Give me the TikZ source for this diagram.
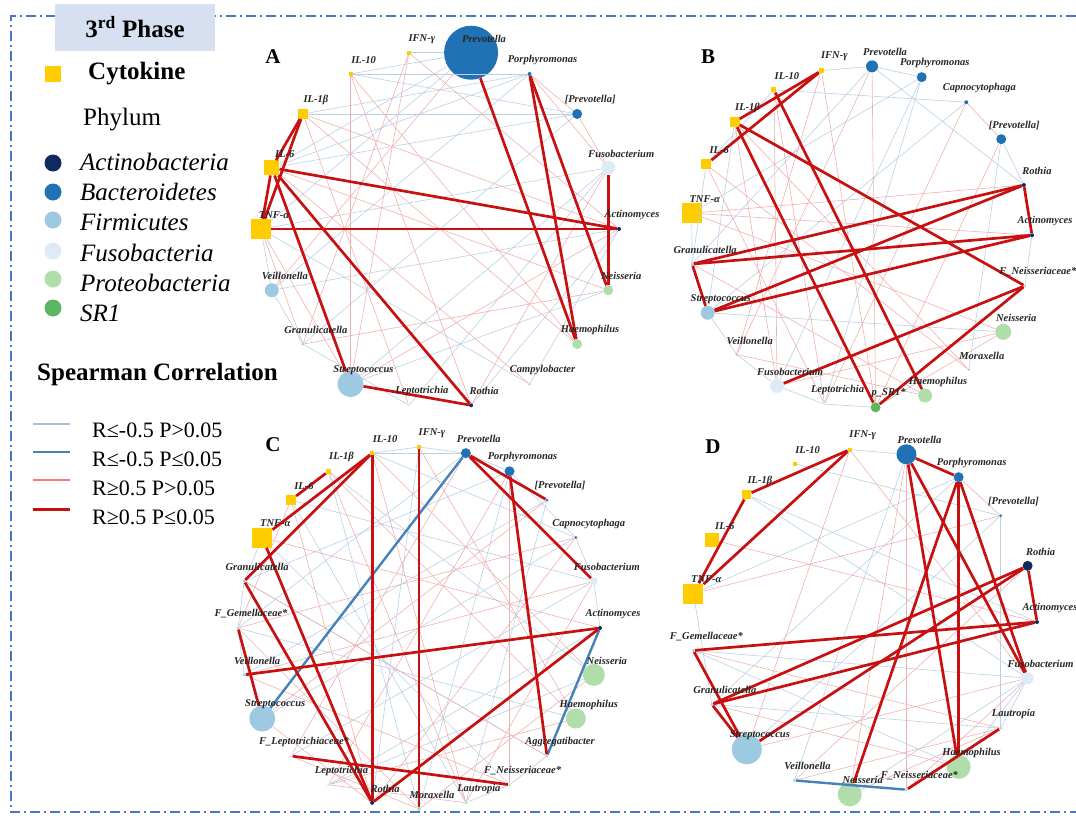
\documentclass[tikz,border=0pt]{standalone}
\usepackage{fontspec}
\setmainfont{Liberation Serif}
\usepackage{tikz}
\usetikzlibrary{positioning}

\definecolor{cytoC}{RGB}{255,204,0}
\definecolor{actC}{RGB}{16,42,96}
\definecolor{bacC}{RGB}{33,113,181}
\definecolor{firC}{RGB}{158,202,225}
\definecolor{fusC}{RGB}{222,234,246}
\definecolor{proC}{RGB}{176,222,170}
\definecolor{sroneC}{RGB}{92,182,100}
\definecolor{frameC}{RGB}{72,118,200}
\definecolor{titleC}{RGB}{214,224,240}
\definecolor{wbC}{RGB}{186,208,230}
\definecolor{sbC}{RGB}{70,130,185}
\definecolor{wrC}{RGB}{240,176,176}
\definecolor{redC}{RGB}{200,16,16}

\begin{document}
\begin{tikzpicture}
[x=1pt,y=-1pt,
cyto/.style={rectangle,fill=cytoC,inner sep=0pt,minimum size=#1},
actino/.style={circle,fill=actC,inner sep=0pt,minimum size=#1},
bactero/.style={circle,fill=bacC,inner sep=0pt,minimum size=#1},
firmi/.style={circle,fill=firC,inner sep=0pt,minimum size=#1},
fuso/.style={circle,fill=fusC,inner sep=0pt,minimum size=#1},
proteo/.style={circle,fill=proC,inner sep=0pt,minimum size=#1},
srone/.style={circle,fill=sroneC,inner sep=0pt,minimum size=#1},
lbl/.style={font=\fontsize{10.5}{12}\selectfont\bfseries\itshape,text=black!85,inner sep=0pt},
weakneg/.style={wbC,line width=.6pt},
strongneg/.style={sbC,line width=2.4pt},
weakpos/.style={wrC,line width=.6pt},
strongpos/.style={redC,line width=2.7pt},
legbold/.style={font=\fontsize{25}{30}\selectfont\bfseries,inner sep=0pt,anchor=west},
legtext/.style={font=\fontsize{25}{30}\selectfont,inner sep=0pt,anchor=west},
legit/.style={font=\fontsize{25}{30}\selectfont\itshape,inner sep=0pt,anchor=west},
legcorr/.style={font=\fontsize{22}{26}\selectfont,inner sep=0pt,anchor=west},
panel/.style={font=\fontsize{21}{25}\selectfont\bfseries,inner sep=0pt}]
\useasboundingbox (0,0) rectangle (1076,816);

% frame and title
\draw[frameC,line width=1.8pt,dash pattern=on 10pt off 4pt on 2pt off 4pt] (1076,16) -| (11,812) -- (1076,812);
\node[fill=titleC,minimum width=160,minimum height=47,inner sep=0pt,font=\fontsize{25}{30}\selectfont\bfseries] (title) at (135,27.5) {3\textsuperscript{rd} Phase};

% legend
\node[cyto=16] (kc) at (53,74) {};
\node[legbold] (kct) at (88,74) {Cytokine};
\node[legtext] (kph) at (83,120) {Phylum};
\node[actino=17] (k1) at (53,163) {};
\node[legit] (k1t) at (80,162) {Actinobacteria};
\node[bactero=17] (k2) at (53,192) {};
\node[legit] (k2t) at (80,192) {Bacteroidetes};
\node[firmi=17] (k3) at (53,220) {};
\node[legit] (k3t) at (80,222) {Firmicutes};
\node[fuso=17] (k4) at (53,251) {};
\node[legit] (k4t) at (80,253) {Fusobacteria};
\node[proteo=17] (k5) at (53,279) {};
\node[legit] (k5t) at (80,283) {Proteobacteria};
\node[srone=17] (k6) at (53,308) {};
\node[legit] (k6t) at (80,313) {SR1};
\node[legbold] (ksp) at (37,374) {Spearman Correlation};

\coordinate (l1a) at (33,424); \coordinate (l1b) at (70,424);
\coordinate (l2a) at (33,452); \coordinate (l2b) at (70,452);
\coordinate (l3a) at (33,480); \coordinate (l3b) at (70,480);
\coordinate (l4a) at (33,509); \coordinate (l4b) at (70,509);
\draw[wbC!80!sbC,line width=1.2pt] (l1a) -- (l1b);
\draw[sbC,line width=2.8pt] (l2a) -- (l2b);
\draw[wrC!70!red,line width=1.2pt] (l3a) -- (l3b);
\draw[redC,line width=3pt] (l4a) -- (l4b);
\node[legcorr] (l1t) at (92,430) {R≤-0.5 P>0.05};
\node[legcorr] (l2t) at (92,459) {R≤-0.5 P≤0.05};
\node[legcorr] (l3t) at (92,488) {R≥0.5 P>0.05};
\node[legcorr] (l4t) at (92,517) {R≥0.5 P≤0.05};

% panel A
\node[panel] (pA) at (273,57) {A};
\begin{scope}[shift={(440,229)}]
\node[cyto=4] (a1) at (260:179) {};
\node[bactero=54] (a2) at (280:179) {};
\node[bactero=4] (a3) at (300:179) {};
\node[bactero=10] (a4) at (320:179) {};
\node[fuso=14] (a5) at (340:179) {};
\node[actino=4] (a6) at (0:179) {};
\node[proteo=10] (a7) at (20:179) {};
\node[proteo=10] (a8) at (40:179) {};
\node[proteo=3] (a9) at (60:179) {};
\node[actino=4] (a10) at (80:179) {};
\node[fuso=3] (a11) at (100:179) {};
\node[firmi=26] (a12) at (120:179) {};
\node[firmi=3] (a13) at (140:179) {};
\node[firmi=14] (a14) at (160:179) {};
\node[cyto=20] (a15) at (180:179) {};
\node[cyto=15] (a16) at (200:179) {};
\node[cyto=10] (a17) at (220:179) {};
\node[cyto=4] (a18) at (240:179) {};
\end{scope}

\foreach \from/\to in {a1/a2,a18/a3,a18/a4,a17/a4,a17/a3,a16/a3,a15/a2,a14/a3,a13/a4,a15/a5,a14/a6,a12/a5,a11/a5,a10/a6,a14/a15,a9/a6,a12/a7,a16/a2,a11/a13,a13/a14,a15/a9,a18/a2,a16/a4}
\draw[weakneg] (\from) -- (\to);
\foreach \from/\to in {a1/a6,a1/a13,a18/a12,a18/a10,a18/a8,a17/a8,a17/a11,a16/a7,a15/a13,a15/a12,a3/a5,a3/a4,a4/a5,a12/a6,a10/a5,a13/a7,a2/a14,a1/a12,a16/a9,a17/a6}
\draw[weakpos] (\from) -- (\to);
\foreach \from/\to in {a17/a16,a17/a15,a16/a15,a16/a6,a15/a6,a16/a12,a16/a10,a12/a10,a2/a8,a3/a8,a3/a7,a5/a7}
\draw[strongpos] (\from) -- (\to);

\node[lbl] (a1t) at ([shift={(13,-14)}]a1) {IFN-γ};
\node[lbl] (a2t) at ([shift={(13,-14)}]a2) {Prevotella};
\node[lbl] (a3t) at ([shift={(13,-14)}]a3) {Porphyromonas};
\node[lbl] (a4t) at ([shift={(13,-14)}]a4) {[Prevotella]};
\node[lbl] (a5t) at ([shift={(13,-14)}]a5) {Fusobacterium};
\node[lbl] (a6t) at ([shift={(13,-14)}]a6) {Actinomyces};
\node[lbl] (a7t) at ([shift={(13,-14)}]a7) {Neisseria};
\node[lbl] (a8t) at ([shift={(13,-14)}]a8) {Haemophilus};
\node[lbl] (a9t) at ([shift={(13,-14)}]a9) {Campylobacter};
\node[lbl] (a10t) at ([shift={(13,-14)}]a10) {Rothia};
\node[lbl] (a11t) at ([shift={(13,-14)}]a11) {Leptotrichia};
\node[lbl] (a12t) at ([shift={(13,-14)}]a12) {Streptococcus};
\node[lbl] (a13t) at ([shift={(13,-14)}]a13) {Granulicatella};
\node[lbl] (a14t) at ([shift={(13,-14)}]a14) {Veillonella};
\node[lbl] (a15t) at ([shift={(13,-14)}]a15) {TNF-α};
\node[lbl] (a16t) at ([shift={(13,-14)}]a16) {IL-6};
\node[lbl] (a17t) at ([shift={(13,-14)}]a17) {IL-1β};
\node[lbl] (a18t) at ([shift={(13,-14)}]a18) {IL-10};

% panel B
\node[panel] (pB) at (708,57) {B};
\begin{scope}[shift={(861,237)}]
\node[bactero=12] (b1) at (273.7:171) {};
\node[bactero=10] (b2) at (290.8:171) {};
\node[bactero=4] (b3) at (308.0:171) {};
\node[bactero=10] (b4) at (325.1:171) {};
\node[actino=4] (b5) at (342.3:171) {};
\node[actino=4] (b6) at (359.4:171) {};
\node[proteo=3] (b7) at (16.6:171) {};
\node[proteo=16] (b8) at (33.7:171) {};
\node[proteo=3] (b9) at (50.9:171) {};
\node[proteo=14] (b10) at (68.0:171) {};
\node[srone=10] (b11) at (85.1:171) {};
\node[fuso=3] (b12) at (102.3:171) {};
\node[fuso=14] (b13) at (119.4:171) {};
\node[firmi=3] (b14) at (136.6:171) {};
\node[firmi=14] (b15) at (153.7:171) {};
\node[firmi=3] (b16) at (170.9:171) {};
\node[cyto=20] (b17) at (188.0:171) {};
\node[cyto=10] (b18) at (205.1:171) {};
\node[cyto=10] (b19) at (222.3:171) {};
\node[cyto=5] (b20) at (239.4:171) {};
\node[cyto=5] (b21) at (256.6:171) {};
\end{scope}

\foreach \from/\to in {b21/b1,b1/b2,b1/b5,b1/b16,b2/b17,b2/b13,b4/b5,b6/b7,b3/b15,b15/b8,b15/b14,b14/b13,b13/b12,b12/b11,b16/b18,b17/b16,b4/b9,b18/b20,b19/b15,b2/b12,b20/b3}
\draw[weakneg] (\from) -- (\to);
\foreach \from/\to in {b21/b11,b21/b14,b20/b13,b19/b13,b18/b9,b17/b6,b17/b5,b17/b8,b3/b4,b3/b12,b1/b11,b1/b14,b4/b11,b13/b8,b14/b10,b16/b10,b18/b12,b11/b8,b19/b9,b20/b12}
\draw[weakpos] (\from) -- (\to);
\foreach \from/\to in {b21/b19,b21/b18,b20/b10,b19/b11,b19/b7,b5/b6,b5/b16,b5/b15,b6/b16,b6/b15,b16/b15,b7/b13,b7/b11}
\draw[strongpos] (\from) -- (\to);

\node[lbl] (b1t) at ([shift={(13,-14)}]b1) {Prevotella};
\node[lbl] (b2t) at ([shift={(13,-14)}]b2) {Porphyromonas};
\node[lbl] (b3t) at ([shift={(13,-14)}]b3) {Capnocytophaga};
\node[lbl] (b4t) at ([shift={(13,-14)}]b4) {[Prevotella]};
\node[lbl] (b5t) at ([shift={(13,-14)}]b5) {Rothia};
\node[lbl] (b6t) at ([shift={(13,-14)}]b6) {Actinomyces};
\node[lbl] (b7t) at ([shift={(13,-14)}]b7) {F\_Neisseriaceae*};
\node[lbl] (b8t) at ([shift={(13,-14)}]b8) {Neisseria};
\node[lbl] (b9t) at ([shift={(13,-14)}]b9) {Moraxella};
\node[lbl] (b10t) at ([shift={(13,-14)}]b10) {Haemophilus};
\node[lbl] (b11t) at ([shift={(13,-14)}]b11) {p\_SR1*};
\node[lbl] (b12t) at ([shift={(13,-14)}]b12) {Leptotrichia};
\node[lbl] (b13t) at ([shift={(13,-14)}]b13) {Fusobacterium};
\node[lbl] (b14t) at ([shift={(13,-14)}]b14) {Veillonella};
\node[lbl] (b15t) at ([shift={(13,-14)}]b15) {Streptococcus};
\node[lbl] (b16t) at ([shift={(13,-14)}]b16) {Granulicatella};
\node[lbl] (b17t) at ([shift={(13,-14)}]b17) {TNF-α};
\node[lbl] (b18t) at ([shift={(13,-14)}]b18) {IL-6};
\node[lbl] (b19t) at ([shift={(13,-14)}]b19) {IL-1β};
\node[lbl] (b20t) at ([shift={(13,-14)}]b20) {IL-10};
\node[lbl] (b21t) at ([shift={(13,-14)}]b21) {IFN-γ};

% panel C
\node[panel] (pC) at (273,445) {C};
\begin{scope}[shift={(419,628)}]
\node[cyto=4] (c1) at (270:181) {};
\node[bactero=10] (c2) at (285:181) {};
\node[bactero=10] (c3) at (300:181) {};
\node[bactero=3] (c4) at (315:181) {};
\node[bactero=3] (c5) at (330:181) {};
\node[fuso=8] (c6) at (345:181) {};
\node[actino=4] (c7) at (0:181) {};
\node[proteo=22] (c8) at (15:181) {};
\node[proteo=20] (c9) at (30:181) {};
\node[proteo=3] (c10) at (45:181) {};
\node[proteo=3] (c11) at (60:181) {};
\node[proteo=3] (c12) at (75:181) {};
\node[proteo=4] (c13) at (90:181) {};
\node[actino=4] (c14) at (105:181) {};
\node[fuso=3] (c15) at (120:181) {};
\node[fuso=3] (c16) at (135:181) {};
\node[firmi=26] (c17) at (150:181) {};
\node[firmi=3] (c18) at (165:181) {};
\node[firmi=3] (c19) at (180:181) {};
\node[firmi=3] (c20) at (195:181) {};
\node[cyto=20] (c21) at (210:181) {};
\node[cyto=10] (c22) at (225:181) {};
\node[cyto=5] (c23) at (240:181) {};
\node[cyto=4] (c24) at (255:181) {};
\end{scope}

\foreach \from/\to in {c24/c1,c24/c2,c1/c2,c2/c3,c2/c19,c3/c20,c4/c18,c5/c17,c6/c16,c7/c15,c8/c15,c9/c19,c10/c20,c11/c21,c12/c22,c13/c23,c21/c20,c20/c19,c19/c18,c5/c6,c6/c7,c10/c11,c11/c12,c1/c14,c3/c13,c4/c12,c22/c6,c23/c8,c24/c5,c3/c5}
\draw[weakneg] (\from) -- (\to);
\foreach \from/\to in {c24/c8,c24/c12,c23/c9,c22/c14,c2/c16,c3/c15,c5/c19,c6/c18,c4/c17,c21/c7,c20/c10,c19/c13,c18/c11,c15/c12,c17/c14,c16/c13,c13/c8,c12/c6,c11/c3,c14/c5,c9/c15,c23/c12,c22/c19,c1/c9}
\draw[weakpos] (\from) -- (\to);
\foreach \from/\to in {c2/c17,c7/c10}
\draw[strongneg] (\from) -- (\to);
\foreach \from/\to in {c23/c22,c24/c21,c24/c20,c24/c14,c1/c13,c21/c14,c20/c14,c2/c4,c2/c6,c3/c10,c7/c18,c7/c14,c19/c17,c16/c11}
\draw[strongpos] (\from) -- (\to);

\node[lbl] (c1t) at ([shift={(13,-14)}]c1) {IFN-γ};
\node[lbl] (c2t) at ([shift={(13,-14)}]c2) {Prevotella};
\node[lbl] (c3t) at ([shift={(13,-14)}]c3) {Porphyromonas};
\node[lbl] (c4t) at ([shift={(13,-14)}]c4) {[Prevotella]};
\node[lbl] (c5t) at ([shift={(13,-14)}]c5) {Capnocytophaga};
\node[lbl] (c6t) at ([shift={(13,-14)}]c6) {Fusobacterium};
\node[lbl] (c7t) at ([shift={(13,-14)}]c7) {Actinomyces};
\node[lbl] (c8t) at ([shift={(13,-14)}]c8) {Neisseria};
\node[lbl] (c9t) at ([shift={(13,-14)}]c9) {Haemophilus};
\node[lbl] (c10t) at ([shift={(13,-14)}]c10) {Aggregatibacter};
\node[lbl] (c11t) at ([shift={(13,-14)}]c11) {F\_Neisseriaceae*};
\node[lbl] (c12t) at ([shift={(13,-14)}]c12) {Lautropia};
\node[lbl] (c13t) at ([shift={(13,-14)}]c13) {Moraxella};
\node[lbl] (c14t) at ([shift={(13,-14)}]c14) {Rothia};
\node[lbl] (c15t) at ([shift={(13,-14)}]c15) {Leptotrichia};
\node[lbl] (c16t) at ([shift={(13,-14)}]c16) {F\_Leptotrichiaceae*};
\node[lbl] (c17t) at ([shift={(13,-14)}]c17) {Streptococcus};
\node[lbl] (c18t) at ([shift={(13,-14)}]c18) {Veillonella};
\node[lbl] (c19t) at ([shift={(13,-14)}]c19) {F\_Gemellaceae*};
\node[lbl] (c20t) at ([shift={(13,-14)}]c20) {Granulicatella};
\node[lbl] (c21t) at ([shift={(13,-14)}]c21) {TNF-α};
\node[lbl] (c22t) at ([shift={(13,-14)}]c22) {IL-6};
\node[lbl] (c23t) at ([shift={(13,-14)}]c23) {IL-1β};
\node[lbl] (c24t) at ([shift={(13,-14)}]c24) {IL-10};

% panel D
\node[panel] (pD) at (713,447) {D};
\begin{scope}[shift={(864,622)}]
\node[actino=4] (d1) at (0:173) {};
\node[fuso=12] (d2) at (18.95:173) {};
\node[proteo=3] (d3) at (37.89:173) {};
\node[proteo=24] (d4) at (56.84:173) {};
\node[proteo=3] (d5) at (75.79:173) {};
\node[proteo=24] (d6) at (94.74:173) {};
\node[firmi=3] (d7) at (113.68:173) {};
\node[firmi=30] (d8) at (132.63:173) {};
\node[firmi=3] (d9) at (151.58:173) {};
\node[firmi=3] (d10) at (170.53:173) {};
\node[cyto=20] (d11) at (189.47:173) {};
\node[cyto=14] (d12) at (208.42:173) {};
\node[cyto=9] (d13) at (227.37:173) {};
\node[cyto=4] (d14) at (246.32:173) {};
\node[cyto=4] (d15) at (265.26:173) {};
\node[bactero=20] (d16) at (284.21:173) {};
\node[bactero=10] (d17) at (303.16:173) {};
\node[bactero=3] (d18) at (322.11:173) {};
\node[actino=10] (d19) at (341.05:173) {};
\end{scope}

\foreach \from/\to in {d15/d16,d13/d2,d13/d1,d11/d17,d10/d2,d9/d3,d18/d3,d18/d8,d4/d2,d3/d2,d6/d2,d11/d9,d10/d4,d17/d9,d16/d7,d14/d18}
\draw[weakneg] (\from) -- (\to);
\foreach \from/\to in {d15/d2,d16/d6,d17/d18,d11/d18,d12/d1,d9/d4,d8/d2,d7/d3,d6/d3,d5/d2,d16/d5,d15/d8,d19/d7,d10/d3}
\draw[weakpos] (\from) -- (\to);
\foreach \from/\to in {d7/d5}
\draw[strongneg] (\from) -- (\to);
\foreach \from/\to in {d15/d13,d15/d11,d13/d11,d10/d1,d10/d8,d9/d19,d9/d1,d9/d8,d8/d19,d19/d1,d16/d17,d16/d4,d16/d2,d17/d6,d17/d4,d17/d2,d5/d3}
\draw[strongpos] (\from) -- (\to);

\node[lbl] (d1t) at ([shift={(13,-14)}]d1) {Actinomyces};
\node[lbl] (d2t) at ([shift={(13,-14)}]d2) {Fusobacterium};
\node[lbl] (d3t) at ([shift={(13,-14)}]d3) {Lautropia};
\node[lbl] (d4t) at ([shift={(13,-14)}]d4) {Haemophilus};
\node[lbl] (d5t) at ([shift={(13,-14)}]d5) {F\_Neisseriaceae*};
\node[lbl] (d6t) at ([shift={(13,-14)}]d6) {Neisseria};
\node[lbl] (d7t) at ([shift={(13,-14)}]d7) {Veillonella};
\node[lbl] (d8t) at ([shift={(13,-14)}]d8) {Streptococcus};
\node[lbl] (d9t) at ([shift={(13,-14)}]d9) {Granulicatella};
\node[lbl] (d10t) at ([shift={(13,-14)}]d10) {F\_Gemellaceae*};
\node[lbl] (d11t) at ([shift={(13,-14)}]d11) {TNF-α};
\node[lbl] (d12t) at ([shift={(13,-14)}]d12) {IL-6};
\node[lbl] (d13t) at ([shift={(13,-14)}]d13) {IL-1β};
\node[lbl] (d14t) at ([shift={(13,-14)}]d14) {IL-10};
\node[lbl] (d15t) at ([shift={(13,-14)}]d15) {IFN-γ};
\node[lbl] (d16t) at ([shift={(13,-14)}]d16) {Prevotella};
\node[lbl] (d17t) at ([shift={(13,-14)}]d17) {Porphyromonas};
\node[lbl] (d18t) at ([shift={(13,-14)}]d18) {[Prevotella]};
\node[lbl] (d19t) at ([shift={(13,-14)}]d19) {Rothia};
\end{tikzpicture}
\end{document}
